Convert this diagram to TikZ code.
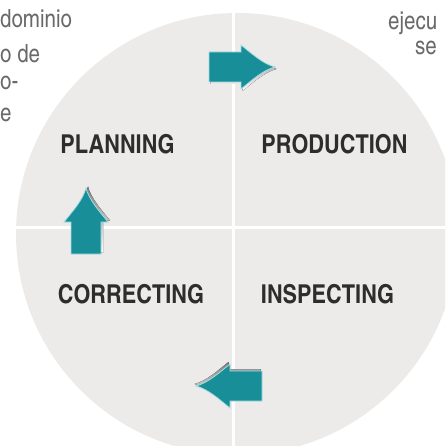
\documentclass[tikz,border=0pt]{standalone}
\usepackage{fontspec}
\setmainfont{Liberation Sans}
\newfontfamily\labelfont{texgyreheroscn-bold}[Extension=.otf,FakeStretch=1.02]
\newfontfamily\bodyfont{texgyreheroscn-regular}[Extension=.otf]
\definecolor{disc}{RGB}{237,235,234}
\definecolor{cyc}{RGB}{24,142,152}
\definecolor{shade}{RGB}{182,180,182}
\definecolor{halo}{RGB}{165,222,226}
\definecolor{lbl}{RGB}{45,45,45}
\definecolor{txt}{RGB}{105,105,105}
\tikzset{
  stagelabel/.style={font=\labelfont\fontsize{26}{30}\selectfont, text=lbl, anchor=base, inner sep=0pt},
  sidetext/.style={font=\bodyfont\fontsize{25}{30}\selectfont, text=txt, anchor=base west, inner sep=0pt},
  divider/.style={white, line width=3pt},
  cyclearrow/.pic={
    \fill[shade] (1.5,-13) -- (33.5,-13) -- (33.5,-20)
      .. controls (43.5,-12) and (55.5,-1) .. (67.5,2)
      .. controls (55.5,5) and (43.5,16) .. (33.5,24) -- (33.5,17) -- (1.5,17) -- cycle;
    \filldraw[fill=cyc, draw=halo, line width=0.8pt] (0,-15) -- (32,-15) -- (32,-22)
      .. controls (42,-14) and (54,-3) .. (66,0)
      .. controls (54,3) and (42,14) .. (32,22) -- (32,15) -- (0,15) -- cycle;
  }
}
\begin{document}
\begin{tikzpicture}[x=1pt,y=-1pt]
\useasboundingbox (0,0) rectangle (445,446);
\fill[white] (0,0) rectangle (445,446);
\begin{scope}
\clip (0,0) rectangle (445,446);
\fill[disc] (237,234) circle[radius=221];
\begin{scope}
  \clip (237,234) circle[radius=221];
  \draw[divider] (233.5,0) -- (233.5,446);
  \draw[divider] (0,227) -- (445,227);
\end{scope}
\node[stagelabel] (planning) at (117.5,154) {PLANNING};
\node[stagelabel] (production) at (334.5,154) {PRODUCTION};
\node[stagelabel] (correcting) at (131,303) {CORRECTING};
\node[stagelabel] (inspecting) at (327.5,303) {INSPECTING};
\pic (toparrow) at (209,67) {cyclearrow};
\pic[rotate=90] (uparrow) at (86,254) {cyclearrow};
\pic[rotate=180] (leftarrow) at (262,386) {cyclearrow};
\node[sidetext] (t1) at (0,28) {dominio};
\node[sidetext] (t2) at (0,63) {o de};
\node[sidetext] (t3) at (0,90) {o-};
\node[sidetext] (t4) at (0,122) {e};
\node[sidetext] (t5) at (388,30) {ejecu};
\node[sidetext] (t6) at (415,55) {se};
\end{scope}
\end{tikzpicture}
\end{document}
